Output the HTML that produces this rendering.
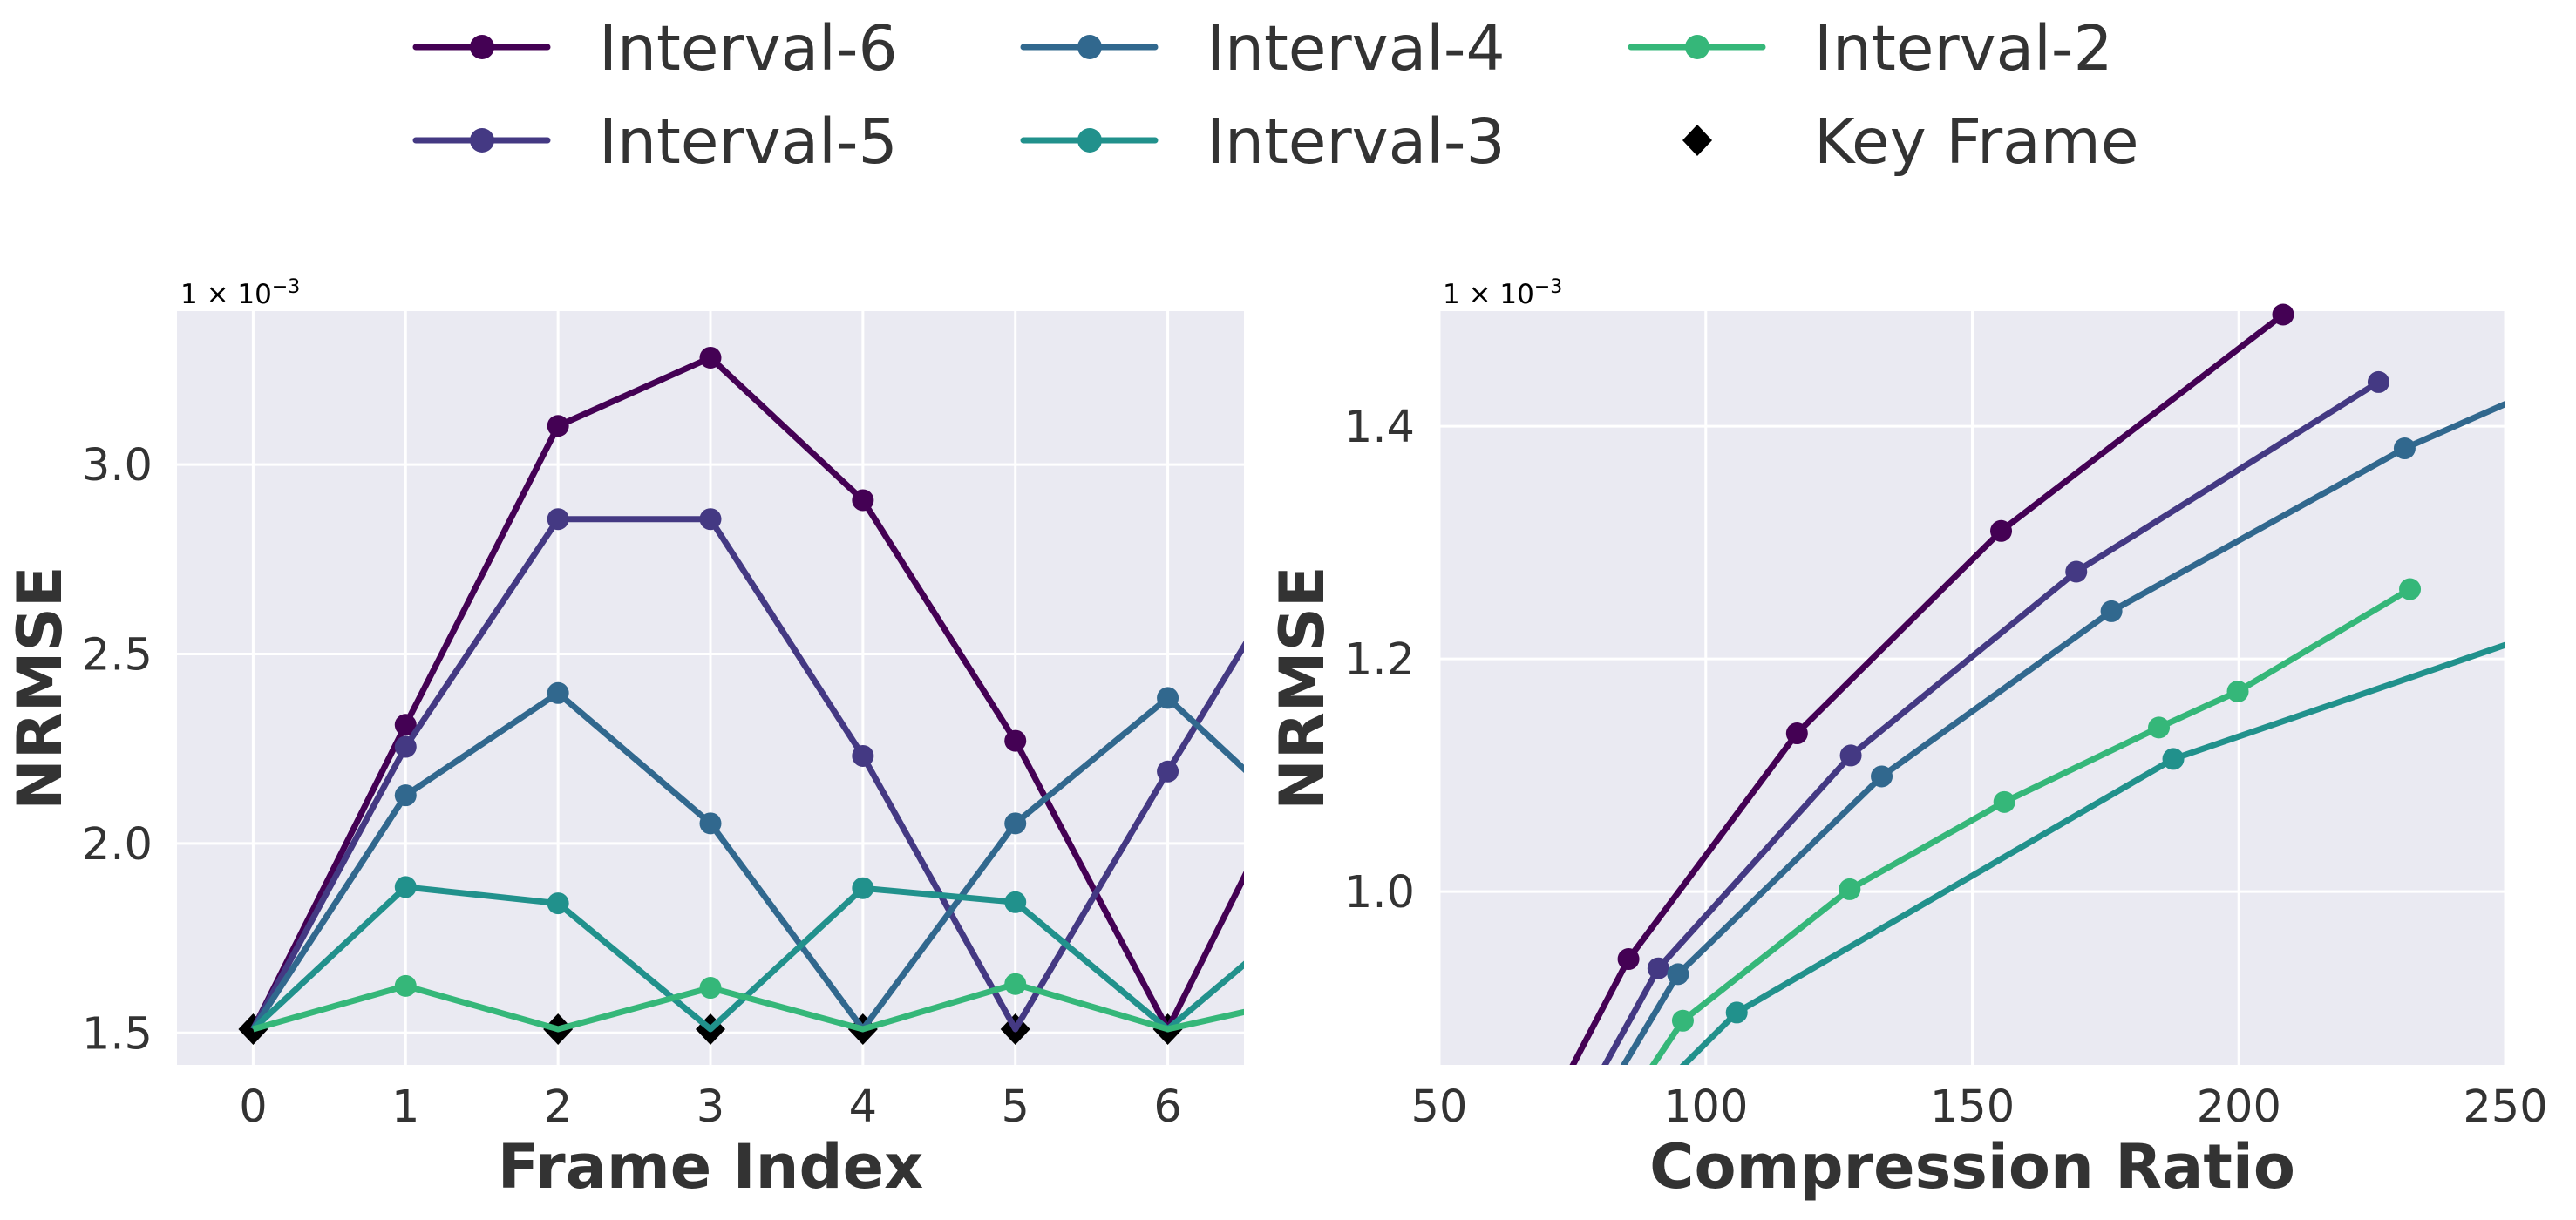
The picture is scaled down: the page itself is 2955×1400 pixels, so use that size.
<!DOCTYPE html>
<html><head><meta charset="utf-8"><style>
html,body{margin:0;padding:0;background:#fff;}
svg{display:block;font-family:"DejaVu Sans","Liberation Sans",sans-serif;}
</style></head><body>
<svg id="fig" width="2955" height="1400" viewBox="0 0 2955 1400" xmlns="http://www.w3.org/2000/svg">
<defs>
<clipPath id="clipL"><rect x="203" y="357" width="1224" height="865"/></clipPath>
<clipPath id="clipR"><rect x="1651" y="357" width="1223" height="865"/></clipPath>
</defs>
<g id="legend"></g>
<g id="left"></g>
<g id="right"></g>
</svg>
<script>
// ---- data ----
const seriesNames = ["Interval-6","Interval-5","Interval-4","Interval-3","Interval-2"];
const seriesColors = ["#440154","#443983","#31688e","#21918c","#35b779"];
// Left chart: frame index
const frameIdx = [0,1,2,3,4,5,6,7];
const frameI6 = [1.51,2.313,3.102,3.282,2.906,2.271,1.51,2.31];
const frameI5 = [1.51,2.255,2.856,2.856,2.231,1.51,2.19,2.85];
const frameI4 = [1.51,2.127,2.397,2.053,1.51,2.053,2.384,2.01];
const frameI3 = [1.51,1.885,1.842,1.51,1.882,1.845,1.51,1.85];
const frameI2 = [1.51,1.624,1.51,1.619,1.51,1.629,1.51,1.60];
const keyFrameIdx = [0,2,3,4,5,6];
const keyFrameVal = [1.51,1.51,1.51,1.51,1.51,1.51];
const leftXTicks = [0,1,2,3,4,5,6];
const leftYTicks = [1.5,2.0,2.5,3.0];
const leftYTickLabels = ["1.5","2.0","2.5","3.0"];
// Right chart: compression ratio
const crI6 = [68,85.5,117.1,155.4,208.3];
const nrI6 = [0.789,0.942,1.136,1.310,1.496];
const crI5 = [74,91.1,127.2,169.5,226.2];
const nrI5 = [0.792,0.934,1.117,1.275,1.438];
const crI4 = [78,94.8,133.0,176.1,231.1,290];
const nrI4 = [0.800,0.929,1.099,1.241,1.381,1.50];
const crI3 = [88,105.8,187.7,290];
const nrI3 = [0.815,0.896,1.114,1.275];
const crI2 = [85,95.7,127.0,156.0,185.0,199.8,232.1];
const nrI2 = [0.816,0.889,1.002,1.077,1.141,1.172,1.260];
const rightXTicks = [50,100,150,200,250];
const rightYTicks = [1.0,1.2,1.4];
const rightYTickLabels = ["1.0","1.2","1.4"];

const NS="http://www.w3.org/2000/svg";
function mk(tag, attrs, parent){const e=document.createElementNS(NS,tag);for(const k in attrs)e.setAttribute(k,attrs[k]);parent.appendChild(e);return e;}

function axis(g, box, xd, yd){
  const sx=v=>box.x+(v-xd[0])/(xd[1]-xd[0])*box.w;
  const sy=v=>box.y+box.h-(v-yd[0])/(yd[1]-yd[0])*box.h;
  return {sx,sy};
}

function drawChart(g, box, xd, yd, xTicks, xLabels, yTicks, yLabels, xTitle, clipId, series, keys){
  const {sx,sy}=axis(g,box,xd,yd);
  const bg=mk('rect',{x:box.x,y:box.y,width:box.w,height:box.h,fill:'#eaeaf2'},g);
  
  
  xTicks.forEach((t,i)=>{
    const l=mk('line',{x1:sx(t),x2:sx(t),y1:box.y,y2:box.y+box.h,stroke:'#fff','stroke-width':3},g);
    
    
    const tx=mk('text',{x:sx(t),y:1287,'font-size':51,fill:'#333','text-anchor':'middle'},g);
    tx.textContent=xLabels[i];
    
    
  });
  yTicks.forEach((t,i)=>{
    const l=mk('line',{x1:box.x,x2:box.x+box.w,y1:sy(t),y2:sy(t),stroke:'#fff','stroke-width':3},g);
    
    
    const tx=mk('text',{x:box.x-28,y:sy(t)+18,'font-size':51,fill:'#333','text-anchor':'end'},g);
    tx.textContent=yLabels[i];
    
    
  });
  const off=mk('text',{x:box.x+4,y:348,'font-size':31,fill:'#000'},g);
  off.innerHTML='1 × 10<tspan dy="-12" font-size="22">−3</tspan>';
  
  
  const xt=mk('text',{x:box.x+box.w/2,y:1363,'font-size':70,'font-weight':'bold',fill:'#333','text-anchor':'middle'},g);
  xt.textContent=xTitle;
  
  
  const yc=box.y+box.h/2, ylx=box.x-133;
  const yt=mk('text',{x:ylx,y:yc,'font-size':70,'font-weight':'bold',fill:'#333','text-anchor':'middle',transform:`rotate(-90 ${ylx} ${yc})`},g);
  yt.textContent='NRMSE';
  
  
  if(keys){
    keys.x.forEach((v,i)=>{
      const cx=sx(v),cy=sy(keys.y[i]);
      const d=mk('polygon',{points:`${cx},${cy-18} ${cx+17},${cy} ${cx},${cy+18} ${cx-17},${cy}`,fill:'#000'},g);
      
      
    });
  }
  series.forEach((s,si)=>{
    const pts=s.x.map((v,i)=>sx(v)+','+sy(s.y[i])).join(' ');
    const pl=mk('polyline',{points:pts,fill:'none',stroke:seriesColors[si],'stroke-width':7,'stroke-linejoin':'round','clip-path':`url(#${clipId})`},g);
    
    
    s.x.forEach((v,i)=>{
      if(v<xd[0]||v>xd[1]||s.y[i]<yd[0]||s.y[i]>yd[1])return;
      if(s.skipKey&&s.y[i]<=1.515)return;
      const c=mk('circle',{cx:sx(v),cy:sy(s.y[i]),r:12.5,fill:seriesColors[si]},g);
      
      
    });
  });
}

const left=document.getElementById('left');
drawChart(left,{x:203,y:357,w:1224,h:865},[-0.5,6.5],[1.4156,3.405],
  leftXTicks,leftXTicks.map(String),leftYTicks,leftYTickLabels,'Frame Index','clipL',
  [{x:frameIdx,y:frameI6,skipKey:true},{x:frameIdx,y:frameI5,skipKey:true},{x:frameIdx,y:frameI4,skipKey:true},{x:frameIdx,y:frameI3,skipKey:true},{x:frameIdx,y:frameI2,skipKey:true}],
  {x:keyFrameIdx,y:keyFrameVal});

const right=document.getElementById('right');
drawChart(right,{x:1651,y:357,w:1223,h:865},[50,250],[0.851,1.499],
  rightXTicks,rightXTicks.map(String),rightYTicks,rightYTickLabels,'Compression Ratio','clipR',
  [{x:crI6,y:nrI6},{x:crI5,y:nrI5},{x:crI4,y:nrI4},{x:crI3,y:nrI3},{x:crI2,y:nrI2}],null);

// legend
const lg=document.getElementById('legend');
const legCols=[477,1174,1871];
const legRows=[54,161];
const legItems=[[0,0,0],[1,0,1],[2,1,0],[3,1,1],[4,2,0],[-1,2,1]];
legItems.forEach(([si,c,r])=>{
  const x=legCols[c], y=legRows[r];
  const g=mk('g',{},lg);
  
  
  if(si>=0){
    mk('line',{x1:x,x2:x+151,y1:y,y2:y,stroke:seriesColors[si],'stroke-width':7,'stroke-linecap':'round'},g);
    mk('circle',{cx:x+76,cy:y,r:14,fill:seriesColors[si]},g);
  } else {
    const cx=x+76;
    mk('polygon',{points:`${cx},${y-18} ${cx+17},${y} ${cx},${y+18} ${cx-17},${y}`,fill:'#000'},g);
  }
  const t=mk('text',{x:x+210,y:y+26,'font-size':71,fill:'#333'},g);
  t.textContent=si>=0?seriesNames[si]:'Key Frame';
});
</script>
</body></html>
